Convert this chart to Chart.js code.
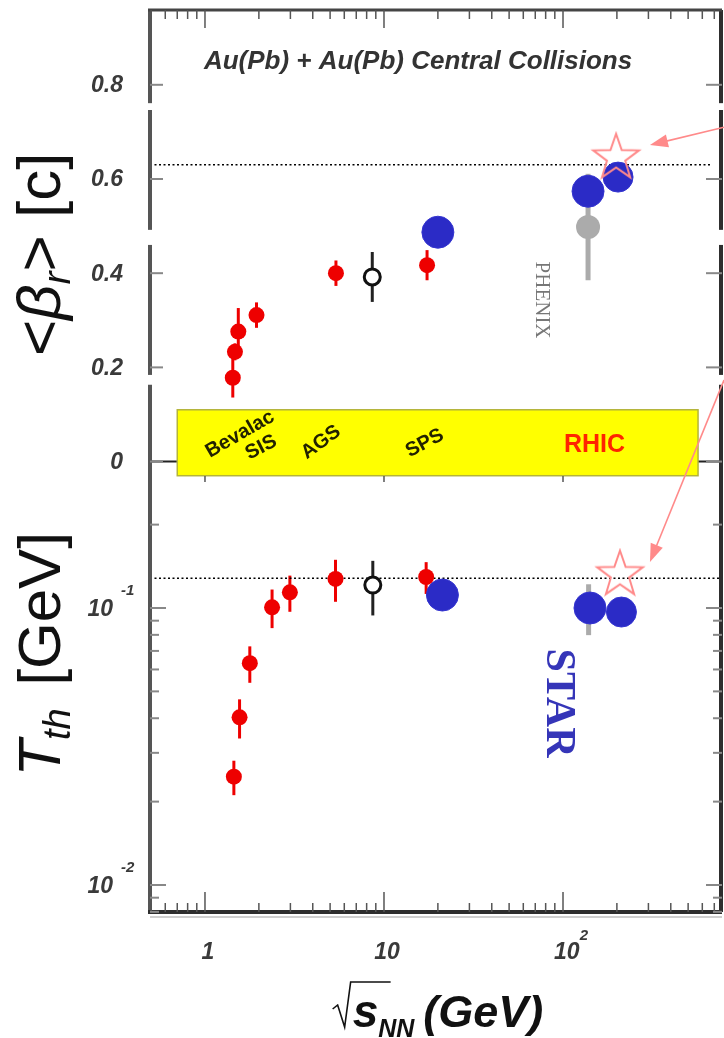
<!DOCTYPE html>
<html>
<head>
<meta charset="utf-8">
<script src="https://cdn.jsdelivr.net/npm/chart.js@4.4.1/dist/chart.umd.min.js"></script>
<style>
  html, body { margin: 0; padding: 0; background: #fff; }
  #wrap { width: 724px; height: 1038px; }
</style>
</head>
<body>
<div id="wrap"><canvas id="flowChart" width="724" height="1038"></canvas></div>
<script>
// ---- values ----
// x axis: sqrt(s_NN) in GeV
const energyRange = [0.493, 773];
const energyTicks = [1, 10, 100];
const energyTickText = ['1', '10', '10'];
const energyTickExp = ['', '', '2'];

// top panel: <beta_r> [c]
const betaRange = [-0.0306, 0.9588];
const betaTicks = [0, 0.2, 0.4, 0.6, 0.8];
const betaTickText = ['0', '0.2', '0.4', '0.6', '0.8'];

const betaRedE = [1.43, 1.47, 1.535, 1.94, 5.39, 17.4];
const betaRed = [0.178, 0.233, 0.276, 0.311, 0.400, 0.417];
const betaRedErr = [0.042, 0.018, 0.05, 0.027, 0.027, 0.032];
const betaOpenE = [8.6];
const betaOpen = [0.392];
const betaOpenErr = [0.053];
const betaStarE = [20, 138, 203];
const betaStar = [0.487, 0.574, 0.604];
const betaPhenixE = [138];
const betaPhenix = [0.498];
const betaPhenixErr = [0.113];
const betaPredE = [198];
const betaPred = [0.645];
const betaLine = 0.63;
const betaLineE = [0.493, 680];

// bottom panel: T_th [GeV]
const tempRange = [0.00799, 0.2996];
const tempTicks = [0.01, 0.1];
const tempTickText = ['10', '10'];
const tempTickExp = ['-2', '-1'];

const tempRedE = [1.45, 1.56, 1.78, 2.37, 2.98, 5.36, 17.2];
const tempRed = [0.0246, 0.0403, 0.0632, 0.1006, 0.1139, 0.1273, 0.1294];
const tempRedErr = [0.0035, 0.0065, 0.0095, 0.016, 0.017, 0.022, 0.017];
const tempOpenE = [8.66];
const tempOpen = [0.121];
const tempOpenErr = [0.027];
const tempStarE = [21.2, 141.5, 212];
const tempStar = [0.1114, 0.100, 0.0967];
const tempPhenixE = [139];
const tempPhenix = [0.1008];
const tempPhenixErr = [0.021];
const tempPredE = [208];
const tempPred = [0.132];
const tempLine = 0.128;
const tempLineE = [0.493, 773];

// accelerator band between the panels
const bandE = [0.70, 568];
const bandBeta = [-0.03, 0.11];
const bandLabels = ['Bevalac', 'SIS', 'AGS', 'SPS', 'RHIC'];
const bandLabelE = [1.57, 2.06, 4.45, 16.9, 150];
const bandLabelBeta = [0.058, 0.030, 0.041, 0.039, 0.035];
const bandLabelAngle = [-30, -27, -36, -28, 0];

// broken-axis gaps on the frame of the top panel
const frameGapBeta = [[0.7465, 0.761], [0.46, 0.492], [0.163, 0.184]];

const RED = '#ee0000';
const BLUE = '#2b2bc6';
const GRAY = '#ababab';
const PINK = '#ff8a8a';

const toXY = (xs, ys) => xs.map((x, i) => ({ x: x, y: ys[i] }));

// open five-pointed star used for the predictions
function starImage(r, color) {
    const s = Math.ceil(r * 2 + 6);
    const c = document.createElement('canvas');
    c.width = s; c.height = s;
    const g = c.getContext('2d');
    g.strokeStyle = color;
    g.lineWidth = 2;
    g.beginPath();
    for (let i = 0; i < 10; i++) {
        const rad = i % 2 === 0 ? r : r * 0.4;
        const a = -Math.PI / 2 + i * Math.PI / 5;
        const px = s / 2 + rad * Math.cos(a);
        const py = s / 2 + rad * Math.sin(a);
        if (i === 0) g.moveTo(px, py); else g.lineTo(px, py);
    }
    g.closePath();
    g.stroke();
    return c;
}
const starMark = starImage(24, PINK);

function drawParts(ctx, parts, startX, baseY) {
    let x = startX;
    parts.forEach(p => {
        ctx.font = p.font;
        ctx.fillText(p.t, x, baseY + (p.dy || 0));
        x += ctx.measureText(p.t).width + (p.gap || 0);
    });
    return x;
}
function partsWidth(ctx, parts) {
    let w = 0;
    parts.forEach(p => { ctx.font = p.font; w += ctx.measureText(p.t).width + (p.gap || 0); });
    return w;
}

function arrow(ctx, x0, y0, x1, y1) {
    const ang = Math.atan2(y1 - y0, x1 - x0);
    const L = 18, W = 6.5;
    ctx.strokeStyle = PINK;
    ctx.fillStyle = PINK;
    ctx.lineWidth = 1.6;
    ctx.beginPath();
    ctx.moveTo(x0, y0);
    ctx.lineTo(x1 - L * 0.7 * Math.cos(ang), y1 - L * 0.7 * Math.sin(ang));
    ctx.stroke();
    ctx.beginPath();
    ctx.moveTo(x1, y1);
    ctx.lineTo(x1 - L * Math.cos(ang) + W * Math.sin(ang), y1 - L * Math.sin(ang) - W * Math.cos(ang));
    ctx.lineTo(x1 - L * Math.cos(ang) - W * Math.sin(ang), y1 - L * Math.sin(ang) + W * Math.cos(ang));
    ctx.closePath();
    ctx.fill();
}

const decorPlugin = {
    id: 'decor',
    beforeDatasetsDraw(chart) {
        const ctx = chart.ctx;
        const ca = chart.chartArea;
        const x = chart.scales.x, yb = chart.scales.yb;
        ctx.save();
        // zero line of the beta panel
        const y0 = yb.getPixelForValue(0);
        ctx.strokeStyle = '#222';
        ctx.lineWidth = 2;
        ctx.beginPath(); ctx.moveTo(ca.left, y0); ctx.lineTo(ca.right, y0); ctx.stroke();

        // yellow accelerator band
        const bx0 = x.getPixelForValue(bandE[0]), bx1 = x.getPixelForValue(bandE[1]);
        const by0 = yb.getPixelForValue(bandBeta[1]), by1 = yb.getPixelForValue(bandBeta[0]);
        ctx.fillStyle = '#ffff00';
        ctx.fillRect(bx0, by0, bx1 - bx0, by1 - by0);
        ctx.strokeStyle = '#b4b43a';
        ctx.lineWidth = 1.5;
        ctx.strokeRect(bx0, by0, bx1 - bx0, by1 - by0);

        bandLabels.forEach((t, i) => {
            ctx.save();
            ctx.translate(x.getPixelForValue(bandLabelE[i]), yb.getPixelForValue(bandLabelBeta[i]));
            ctx.rotate(bandLabelAngle[i] * Math.PI / 180);
            ctx.textAlign = 'center';
            ctx.textBaseline = 'middle';
            if (t === 'RHIC') {
                ctx.fillStyle = '#ff2400';
                ctx.font = 'bold 25px "Liberation Sans"';
            } else {
                ctx.fillStyle = '#222200';
                ctx.font = 'bold 20px "Liberation Sans"';
            }
            ctx.fillText(t, 0, 0);
            ctx.restore();
        });

        // error bars, under the markers
        chart.data.datasets.forEach((ds, i) => {
            if (!ds.errorBars) return;
            const meta = chart.getDatasetMeta(i);
            const ys = chart.scales[ds.yAxisID];
            ctx.strokeStyle = ds.errorColor;
            ctx.lineWidth = ds.errorWidth;
            meta.data.forEach((el, j) => {
                const v = ds.data[j].y, e = ds.errorBars[j];
                ctx.beginPath();
                ctx.moveTo(el.x, ys.getPixelForValue(v + e));
                ctx.lineTo(el.x, ys.getPixelForValue(v - e));
                ctx.stroke();
            });
        });
        ctx.restore();
    },
    afterDatasetsDraw(chart) {
        const ctx = chart.ctx;
        const ca = chart.chartArea;
        const x = chart.scales.x, yb = chart.scales.yb, yt = chart.scales.yt;
        ctx.save();

        // frame, with the broken-axis gaps in the upper panel
        const gaps = frameGapBeta.map(g => [yb.getPixelForValue(g[1]), yb.getPixelForValue(g[0])]);
        const side = (px, color, w) => {
            ctx.strokeStyle = color;
            ctx.lineWidth = w;
            let from = ca.top;
            gaps.forEach(g => {
                ctx.beginPath(); ctx.moveTo(px, from); ctx.lineTo(px, g[0]); ctx.stroke();
                from = g[1];
            });
            ctx.beginPath(); ctx.moveTo(px, from); ctx.lineTo(px, ca.bottom); ctx.stroke();
        };
        side(ca.left, '#555', 4);
        side(ca.right - 1, '#2e2e2e', 4);
        ctx.strokeStyle = '#444';
        ctx.lineWidth = 3;
        ctx.beginPath(); ctx.moveTo(ca.left - 2, ca.top); ctx.lineTo(ca.right, ca.top); ctx.stroke();
        ctx.strokeStyle = '#2e2e2e';
        ctx.lineWidth = 4;
        ctx.beginPath(); ctx.moveTo(ca.left - 2, ca.bottom); ctx.lineTo(ca.right, ca.bottom); ctx.stroke();
        ctx.strokeStyle = '#cfcfcf';
        ctx.lineWidth = 2;
        ctx.beginPath(); ctx.moveTo(ca.left, ca.bottom + 5); ctx.lineTo(ca.right, ca.bottom + 5); ctx.stroke();

        // x ticks on bottom and top edges
        ctx.strokeStyle = '#555';
        ctx.lineWidth = 1.5;
        for (let d = -1; d <= 3; d++) {
            for (let m = 1; m <= 9; m++) {
                const v = m * Math.pow(10, d);
                if (v < energyRange[0] || v > energyRange[1]) continue;
                const px = x.getPixelForValue(v);
                const len = m === 1 ? 20 : 9;
                ctx.beginPath(); ctx.moveTo(px, ca.bottom); ctx.lineTo(px, ca.bottom - len); ctx.stroke();
                ctx.beginPath(); ctx.moveTo(px, ca.top); ctx.lineTo(px, ca.top + (m === 1 ? 18 : 9)); ctx.stroke();
                if (m === 1) {
                    ctx.beginPath(); ctx.moveTo(px, yt.top); ctx.lineTo(px, yt.top + 6); ctx.stroke();
                }
            }
        }
        // y ticks, both sides
        ctx.strokeStyle = '#888';
        ctx.lineWidth = 2;
        betaTicks.forEach(v => {
            const py = yb.getPixelForValue(v);
            ctx.beginPath(); ctx.moveTo(ca.left, py); ctx.lineTo(ca.left + 13, py); ctx.stroke();
            ctx.beginPath(); ctx.moveTo(ca.right, py); ctx.lineTo(ca.right - 16, py); ctx.stroke();
        });
        for (let d = -3; d <= 0; d++) {
            for (let m = 1; m <= 9; m++) {
                const v = m * Math.pow(10, d);
                if (v < tempRange[0] || v > tempRange[1]) continue;
                const py = yt.getPixelForValue(v);
                const len = m === 1 ? 16 : 9;
                ctx.beginPath(); ctx.moveTo(ca.left, py); ctx.lineTo(ca.left + len, py); ctx.stroke();
                ctx.beginPath(); ctx.moveTo(ca.right, py); ctx.lineTo(ca.right - len, py); ctx.stroke();
            }
        }

        // tick labels
        const tickFont = 'italic bold 23px "Liberation Sans"';
        const expFont = 'italic bold 15px "Liberation Sans"';
        ctx.fillStyle = '#3a3a3a';
        ctx.textBaseline = 'middle';
        ctx.textAlign = 'right';
        ctx.font = tickFont;
        betaTicks.forEach((v, i) => {
            ctx.fillText(betaTickText[i], ca.left - 27, yb.getPixelForValue(v) + 1);
        });
        tempTicks.forEach((v, i) => {
            const py = yt.getPixelForValue(v);
            ctx.textAlign = 'right';
            ctx.font = tickFont;
            ctx.fillText(tempTickText[i], ca.left - 37, py + 2);
            ctx.textAlign = 'left';
            ctx.font = expFont;
            ctx.fillText(tempTickExp[i], ca.left - 29, py - 17);
        });
        ctx.textAlign = 'left';
        energyTicks.forEach((v, i) => {
            const px = x.getPixelForValue(v);
            const parts = [{ t: energyTickText[i], font: tickFont }];
            if (energyTickExp[i]) parts.push({ t: energyTickExp[i], font: expFont, dy: -17, gap: 0 });
            const w = partsWidth(ctx, parts);
            drawParts(ctx, parts, px + 3 - w / 2 + (energyTickExp[i] ? 5 : 0), ca.bottom + 41);
        });

        // axis titles
        ctx.fillStyle = '#111';
        ctx.textBaseline = 'alphabetic';
        const xt = [
            { t: 's', font: 'italic bold 46px "Liberation Sans"' },
            { t: 'NN', font: 'italic bold 25px "Liberation Sans"', dy: 10, gap: 9 },
            { t: '(GeV)', font: 'italic bold 45px "Liberation Sans"' }
        ];
        const rw = 20;
        const xw = partsWidth(ctx, xt) + rw;
        const xs = (ca.left + ca.right) / 2 + 2 - xw / 2;
        const base = 1027;
        ctx.strokeStyle = '#111';
        ctx.lineWidth = 1.6;
        ctx.beginPath();
        ctx.moveTo(xs, base - 18);
        ctx.lineTo(xs + 5, base - 22);
        ctx.lineTo(xs + 12, base);
        ctx.lineTo(xs + 18, base - 45);
        ctx.lineTo(xs + rw + 38, base - 45);
        ctx.stroke();
        drawParts(ctx, xt, xs + rw, base);

        const rotTitle = (parts, cx, cy) => {
            ctx.save();
            ctx.translate(cx, cy);
            ctx.rotate(-Math.PI / 2);
            const w = partsWidth(ctx, parts);
            drawParts(ctx, parts, -w / 2, 0);
            ctx.restore();
        };
        rotTitle([
            { t: '<', font: '62px "Liberation Sans"' },
            { t: 'β', font: 'italic 62px "Liberation Sans"' },
            { t: 'r', font: 'italic 39px "Liberation Sans"', dy: 10 },
            { t: '> [c]', font: '62px "Liberation Sans"' }
        ], 60, yb.getPixelForValue(0.44));
        rotTitle([
            { t: 'T', font: 'italic 60px "Liberation Sans"' },
            { t: 'th', font: 'italic 38px "Liberation Sans"', dy: 10, gap: 6 },
            { t: ' [GeV]', font: '60px "Liberation Sans"' }
        ], 60, yt.getPixelForValue(0.068));

        // panel title and experiment labels
        ctx.fillStyle = '#333';
        ctx.textAlign = 'center';
        ctx.textBaseline = 'middle';
        ctx.font = 'italic bold 26px "Liberation Sans"';
        ctx.fillText('Au(Pb) + Au(Pb) Central Collisions', x.getPixelForValue(15.5), yb.getPixelForValue(0.848));

        ctx.save();
        ctx.translate(x.getPixelForValue(76.3), yb.getPixelForValue(0.343));
        ctx.rotate(Math.PI / 2);
        ctx.fillStyle = '#777';
        ctx.font = '21px "Liberation Serif"';
        ctx.fillText('PHENIX', 0, 0);
        ctx.restore();

        ctx.save();
        ctx.translate(x.getPixelForValue(93.7), yt.getPixelForValue(0.0454));
        ctx.rotate(Math.PI / 2);
        ctx.fillStyle = '#3535b8';
        ctx.font = 'bold 42px "Liberation Serif"';
        ctx.fillText('STAR', 0, 0);
        ctx.restore();

        // arrows pointing at the predictions
        arrow(ctx, x.getPixelForValue(793), yb.getPixelForValue(0.710), x.getPixelForValue(306), yb.getPixelForValue(0.672));
        arrow(ctx, x.getPixelForValue(793), yb.getPixelForValue(0.173), x.getPixelForValue(306), yt.getPixelForValue(0.1466));
        ctx.restore();
    }
};

const hidden = {
    grid: { display: false },
    border: { display: false },
    ticks: { display: false }
};

new Chart(document.getElementById('flowChart'), {
    type: 'scatter',
    data: {
        datasets: [
            { label: 'prediction <beta>', data: toXY(betaPredE, betaPred), yAxisID: 'yb',
              pointStyle: starMark, pointRadius: 24, order: 0 },
            { label: 'prediction T', data: toXY(tempPredE, tempPred), yAxisID: 'yt',
              pointStyle: starMark, pointRadius: 24, order: 0 },
            { label: 'STAR <beta>', data: toXY(betaStarE, betaStar), yAxisID: 'yb',
              backgroundColor: BLUE, borderColor: '#3434d0', borderWidth: 1, pointRadius: [16, 16, 15], order: 1 },
            { label: 'STAR T', data: toXY(tempStarE, tempStar), yAxisID: 'yt',
              backgroundColor: BLUE, borderColor: '#3434d0', borderWidth: 1, pointRadius: [16, 16, 15], order: 1 },
            { label: 'fixed target <beta>', data: toXY(betaRedE, betaRed), yAxisID: 'yb',
              backgroundColor: RED, borderWidth: 0, pointRadius: 8, order: 2,
              errorBars: betaRedErr, errorColor: RED, errorWidth: 3 },
            { label: 'fixed target T', data: toXY(tempRedE, tempRed), yAxisID: 'yt',
              backgroundColor: RED, borderWidth: 0, pointRadius: 8, order: 2,
              errorBars: tempRedErr, errorColor: RED, errorWidth: 3 },
            { label: 'open <beta>', data: toXY(betaOpenE, betaOpen), yAxisID: 'yb',
              backgroundColor: '#fff', borderColor: '#111', borderWidth: 3, pointRadius: 8, order: 2,
              errorBars: betaOpenErr, errorColor: '#222', errorWidth: 3 },
            { label: 'open T', data: toXY(tempOpenE, tempOpen), yAxisID: 'yt',
              backgroundColor: '#fff', borderColor: '#111', borderWidth: 3, pointRadius: 8, order: 2,
              errorBars: tempOpenErr, errorColor: '#222', errorWidth: 3 },
            { label: 'PHENIX <beta>', data: toXY(betaPhenixE, betaPhenix), yAxisID: 'yb',
              backgroundColor: GRAY, borderWidth: 0, pointRadius: 12, order: 3,
              errorBars: betaPhenixErr, errorColor: GRAY, errorWidth: 5 },
            { label: 'PHENIX T', data: toXY(tempPhenixE, tempPhenix), yAxisID: 'yt',
              backgroundColor: GRAY, borderWidth: 0, pointRadius: 12, order: 3,
              errorBars: tempPhenixErr, errorColor: GRAY, errorWidth: 5 },
            { label: 'beta reference', data: toXY(betaLineE, [betaLine, betaLine]), yAxisID: 'yb',
              showLine: true, pointRadius: 0, borderColor: '#000', borderWidth: 1.5, borderDash: [2, 2.5], order: 5 },
            { label: 'T reference', data: toXY(tempLineE, [tempLine, tempLine]), yAxisID: 'yt',
              showLine: true, pointRadius: 0, borderColor: '#000', borderWidth: 1.5, borderDash: [2, 2.5], order: 5 }
        ]
    },
    options: {
        responsive: false,
        animation: false,
        events: [],
        layout: { autoPadding: false, padding: { top: 10, right: 2, left: 0, bottom: 0 } },
        plugins: { legend: { display: false }, tooltip: { enabled: false } },
        scales: {
            x: Object.assign({ type: 'logarithmic', bounds: 'data', min: energyRange[0], max: energyRange[1],
                afterFit: s => { s.height = 126; } }, hidden),
            // bottom panel listed first so the beta panel is stacked above it
            yt: Object.assign({ type: 'logarithmic', position: 'left', stack: 'panels', stackWeight: 436, bounds: 'data',
                min: tempRange[0], max: tempRange[1], afterFit: s => { s.width = 150; } }, hidden),
            yb: Object.assign({ type: 'linear', position: 'left', stack: 'panels', stackWeight: 466, bounds: 'data',
                min: betaRange[0], max: betaRange[1], afterFit: s => { s.width = 150; } }, hidden)
        }
    },
    plugins: [decorPlugin]
});
</script>
</body>
</html>
